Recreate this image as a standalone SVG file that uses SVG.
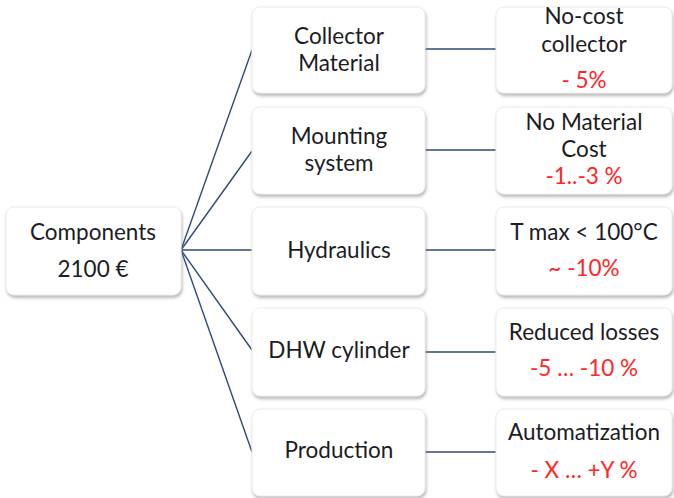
<svg xmlns="http://www.w3.org/2000/svg" width="674" height="498" viewBox="0 0 674 498">
<defs>
<filter id="sh" x="-10%" y="-10%" width="125%" height="130%">
<feDropShadow dx="1" dy="2.5" stdDeviation="1.5" flood-color="#7f7f7f" flood-opacity="0.55"/>
</filter>
</defs>
<style>
.box{fill:#ffffff;stroke:#ececec;stroke-width:1;filter:url(#sh)}
.t{font-family:Lato,"Liberation Sans",sans-serif;font-size:22.5px;fill:#1c1c24;text-anchor:middle}
.r{fill:#ff2626}
.c{stroke:#2f4a7a;stroke-width:1.4;fill:none}
</style>
<rect width="674" height="498" fill="#ffffff"/>
<g id="connectors">
<line class="c" x1="181" y1="250" x2="252" y2="50"/>
<line class="c" x1="181" y1="250" x2="252" y2="151"/>
<line class="c" x1="181" y1="250" x2="252" y2="250"/>
<line class="c" x1="181" y1="250" x2="252" y2="350"/>
<line class="c" x1="181" y1="250" x2="252" y2="452"/>
<line class="c" x1="425" y1="49" x2="496" y2="49"/>
<line class="c" x1="425" y1="150" x2="496" y2="150"/>
<line class="c" x1="425" y1="250" x2="496" y2="250"/>
<line class="c" x1="425" y1="352" x2="496" y2="352"/>
<line class="c" x1="425" y1="452" x2="496" y2="452"/>
</g>
<g id="components">
<rect class="box" x="6" y="207" width="175" height="88" rx="8"/>
<text class="t" x="93" y="240">Components</text>
<text class="t" x="93" y="277">2100 €</text>
</g>
<g id="collector-material">
<rect class="box" x="252" y="7" width="173" height="86" rx="8"/>
<text class="t" x="339" y="44">Collector</text>
<text class="t" x="339" y="71">Material</text>
</g>
<g id="mounting-system">
<rect class="box" x="252" y="107" width="173" height="87" rx="8"/>
<text class="t" x="339" y="144">Mounting</text>
<text class="t" x="339" y="171">system</text>
</g>
<g id="hydraulics">
<rect class="box" x="252" y="207" width="173" height="88" rx="8"/>
<text class="t" x="339" y="258">Hydraulics</text>
</g>
<g id="dhw-cylinder">
<rect class="box" x="252" y="308" width="173" height="88" rx="8"/>
<text class="t" x="339" y="358">DHW cylinder</text>
</g>
<g id="production">
<rect class="box" x="252" y="409" width="173" height="87" rx="8"/>
<text class="t" x="339" y="458">Production</text>
</g>
<g id="no-cost-collector">
<rect class="box" x="496" y="7" width="176" height="86" rx="8"/>
<text class="t" x="584" y="24">No-cost</text>
<text class="t" x="584" y="52">collector</text>
<text class="t r" x="584" y="88">- 5%</text>
</g>
<g id="no-material-cost">
<rect class="box" x="496" y="107" width="176" height="87" rx="8"/>
<text class="t" x="584" y="130">No Material</text>
<text class="t" x="584" y="157">Cost</text>
<text class="t r" x="584" y="184">-1..-3 %</text>
</g>
<g id="t-max">
<rect class="box" x="496" y="207" width="176" height="88" rx="8"/>
<text class="t" x="584" y="240">T max &lt; 100°C</text>
<text class="t r" x="584" y="276">~ -10%</text>
</g>
<g id="reduced-losses">
<rect class="box" x="496" y="308" width="176" height="88" rx="8"/>
<text class="t" x="584" y="340">Reduced losses</text>
<text class="t r" x="584" y="376">-5 … -10 %</text>
</g>
<g id="automatization">
<rect class="box" x="496" y="409" width="176" height="87" rx="8"/>
<text class="t" x="584" y="440">Automatization</text>
<text class="t r" x="584" y="478">- X … +Y %</text>
</g>
</svg>
